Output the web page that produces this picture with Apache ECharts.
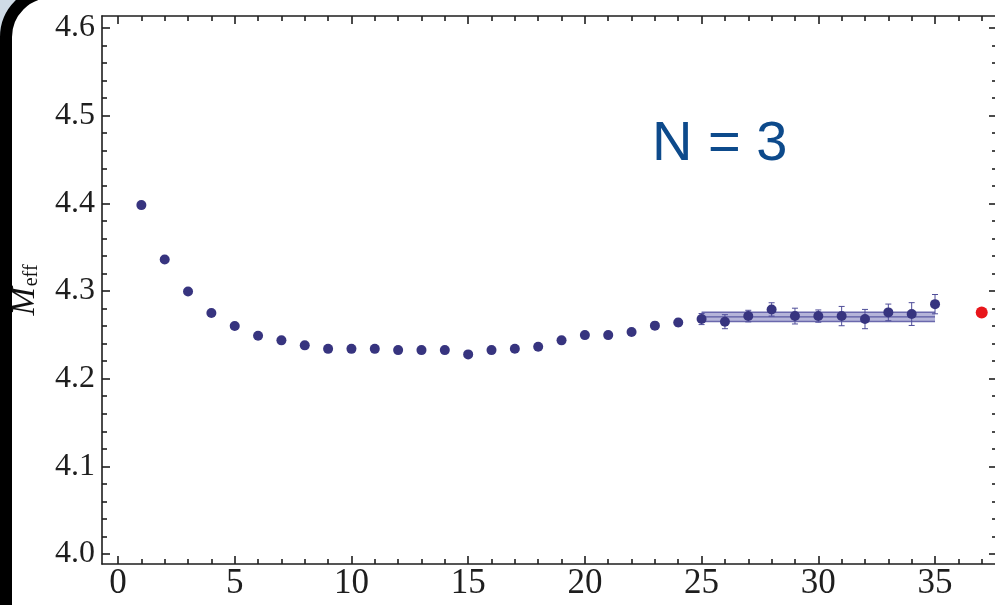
<!DOCTYPE html>
<html>
<head>
<meta charset="utf-8">
<script src="https://cdn.jsdelivr.net/npm/echarts@6/dist/echarts.min.js"></script>
<style>
  html, body { margin: 0; padding: 0; background: #cfdbe6; }
  #chart { width: 995px; height: 605px; }
</style>
</head>
<body>
<div id="chart"></div>
<script>
// ---- data ----
const timeSlices = [1, 2, 3, 4, 5, 6, 7, 8, 9, 10, 11, 12, 13, 14, 15, 16, 17, 18, 19, 20,
                    21, 22, 23, 24, 25, 26, 27, 28, 29, 30, 31, 32, 33, 34, 35];
const mEff = [4.398, 4.336, 4.2995, 4.275, 4.260, 4.249, 4.2437, 4.238, 4.234, 4.234,
              4.234, 4.2326, 4.2326, 4.2326, 4.2277, 4.2326, 4.2341, 4.2364, 4.2437, 4.2497,
              4.2497, 4.2533, 4.2605, 4.264, 4.268, 4.265, 4.2714, 4.279, 4.2714, 4.2714,
              4.2714, 4.268, 4.2756, 4.2737, 4.285];
const mEffErr = [0, 0, 0, 0, 0, 0, 0, 0, 0, 0,
                 0, 0, 0, 0, 0, 0, 0, 0, 0, 0,
                 0.002, 0.002, 0.004, 0.004, 0.0063, 0.008, 0.0066, 0.0076, 0.009, 0.007,
                 0.011, 0.011, 0.0095, 0.013, 0.011];
const fitRange = [25, 35];
const fitValue = 4.2706;
const fitError = 0.0053;
const extrapX = 37;
const extrapValue = 4.2756;

const xMajorTicks = [0, 5, 10, 15, 20, 25, 30, 35];
const xMinorTicks = [1, 2, 3, 4, 6, 7, 8, 9, 11, 12, 13, 14, 16, 17, 18, 19, 21, 22, 23, 24,
                     26, 27, 28, 29, 31, 32, 33, 34, 36, 37];
const yMajorTicks = [4.0, 4.1, 4.2, 4.3, 4.4, 4.5, 4.6];
const yMinorTicks = [4.02, 4.04, 4.06, 4.08, 4.12, 4.14, 4.16, 4.18, 4.22, 4.24, 4.26, 4.28,
                     4.32, 4.34, 4.36, 4.38, 4.42, 4.44, 4.46, 4.48, 4.52, 4.54, 4.56, 4.58];
const panelLabel = 'N = 3';

// ---- chart ----
const X_MIN = -0.686, X_MAX = 37.655;
const Y_MIN = 3.9886, Y_MAX = 4.6137;
const AXIS_COLOR = '#1e1e1e';
const SERIF = '"Liberation Serif", "DejaVu Serif", serif';
const DOT = '#37347f';

function mkX(position, ticks, len, showLine, showLabels) {
  return {
    type: 'value', position: position, min: X_MIN, max: X_MAX,
    axisLine: { show: showLine, onZero: false, lineStyle: { color: AXIS_COLOR, width: 1.6 } },
    axisTick: { show: true, inside: true, length: len, customValues: ticks,
                lineStyle: { color: AXIS_COLOR, width: 1.6 } },
    axisLabel: showLabels ? { show: true, customValues: ticks, fontFamily: SERIF, fontSize: 35,
                              color: AXIS_COLOR, margin: 2 } : { show: false },
    splitLine: { show: false }
  };
}
function mkY(position, ticks, len, showLine, showLabels) {
  return {
    type: 'value', position: position, min: Y_MIN, max: Y_MAX,
    axisLine: { show: showLine, onZero: false, lineStyle: { color: AXIS_COLOR, width: 1.6 } },
    axisTick: { show: true, inside: true, length: len, customValues: ticks,
                lineStyle: { color: AXIS_COLOR, width: 1.6 } },
    axisLabel: showLabels ? { show: true, customValues: ticks, fontFamily: SERIF, fontSize: 32,
                              color: AXIS_COLOR, margin: 7,
                              formatter: v => v.toFixed(1) } : { show: false },
    splitLine: { show: false }
  };
}

const xAxes = [
  mkX('bottom', xMajorTicks, 8, true, true),
  mkX('bottom', xMinorTicks, 5, false, false),
  mkX('top', xMajorTicks, 8, true, false),
  mkX('top', xMinorTicks, 5, false, false)
];
const yAxes = [
  mkY('left', yMajorTicks, 8, true, true),
  mkY('left', yMinorTicks, 5, false, false),
  mkY('right', yMajorTicks, 8, true, false),
  mkY('right', yMinorTicks, 5, false, false)
];
yAxes[0].name = '{m|M}{s|eff}';
yAxes[0].nameLocation = 'middle';
yAxes[0].nameRotate = 90;
yAxes[0].nameGap = 60;
yAxes[0].nameTextStyle = {
  rich: {
    m: { fontFamily: SERIF, fontStyle: 'italic', fontSize: 34, color: '#111', lineHeight: 34 },
    s: { fontFamily: SERIF, fontSize: 20, color: '#111', verticalAlign: 'bottom', lineHeight: 34, padding: [12, 0, 0, 1] }
  }
};

const chart = echarts.init(document.getElementById('chart'), null, { renderer: 'canvas' });
chart.setOption({
  backgroundColor: '#cfdbe6',
  animation: false,
  graphic: [
    {
      type: 'rect', z: -100, silent: true,
      shape: { x: 6, y: -8, width: 1100, height: 700, r: 45 },
      style: { fill: '#ffffff', stroke: '#000000', lineWidth: 12 }
    },
    {
      type: 'text', z: 100, left: 652, top: 117,
      style: { text: panelLabel, font: '56px "Liberation Sans", Arial, sans-serif', fill: '#0d4a8b' }
    }
  ],
  grid: { left: 102, right: -2, top: 16, bottom: 41, containLabel: false, outerBoundsMode: 'none' },
  xAxis: xAxes,
  yAxis: yAxes,
  series: [
    {
      type: 'custom', name: 'fit', xAxisIndex: 0, yAxisIndex: 0, z: 2,
      data: [[fitRange[0], fitRange[1], fitValue, fitError]],
      renderItem: function (params, api) {
        const x0 = api.value(0), x1 = api.value(1), c = api.value(2), e = api.value(3);
        const pTop = api.coord([x0, c + e]);
        const pBot = api.coord([x1, c - e]);
        const pMid0 = api.coord([x0, c]);
        const pMid1 = api.coord([x1, c]);
        return {
          type: 'group',
          children: [
            { type: 'rect', shape: { x: pTop[0], y: pTop[1], width: pBot[0] - pTop[0], height: pBot[1] - pTop[1] },
              style: { fill: 'rgba(120,118,185,0.55)' } },
            { type: 'line', shape: { x1: pTop[0], y1: pTop[1], x2: pBot[0], y2: pTop[1] },
              style: { stroke: '#6a68ad', lineWidth: 1.5 } },
            { type: 'line', shape: { x1: pTop[0], y1: pBot[1], x2: pBot[0], y2: pBot[1] },
              style: { stroke: '#6a68ad', lineWidth: 1.5 } },
            { type: 'line', shape: { x1: pMid0[0], y1: pMid0[1], x2: pMid1[0], y2: pMid1[1] },
              style: { stroke: '#5a58a2', lineWidth: 1.2 } }
          ]
        };
      }
    },
    {
      type: 'custom', name: 'errors', xAxisIndex: 0, yAxisIndex: 0, z: 3,
      data: timeSlices.map((t, i) => [t, mEff[i], mEffErr[i]]),
      renderItem: function (params, api) {
        const x = api.value(0), y = api.value(1), e = api.value(2);
        if (!e) return null;
        const hi = api.coord([x, y + e]);
        const lo = api.coord([x, y - e]);
        const cap = 3;
        const st = { stroke: '#4f4d99', lineWidth: 1 };
        return {
          type: 'group',
          children: [
            { type: 'line', shape: { x1: hi[0], y1: hi[1], x2: lo[0], y2: lo[1] }, style: st },
            { type: 'line', shape: { x1: hi[0] - cap, y1: hi[1], x2: hi[0] + cap, y2: hi[1] }, style: st },
            { type: 'line', shape: { x1: lo[0] - cap, y1: lo[1], x2: lo[0] + cap, y2: lo[1] }, style: st }
          ]
        };
      }
    },
    {
      type: 'scatter', name: 'Meff', xAxisIndex: 0, yAxisIndex: 0, z: 4,
      symbol: 'circle', symbolSize: 10,
      itemStyle: { color: DOT, opacity: 1 },
      data: timeSlices.map((t, i) => [t, mEff[i]])
    },
    {
      type: 'scatter', name: 'extrapolated', xAxisIndex: 0, yAxisIndex: 0, z: 4,
      symbol: 'circle', symbolSize: 12,
      itemStyle: { color: '#e8161b', opacity: 1 },
      data: [[extrapX, extrapValue]]
    }
  ]
});
</script>
</body>
</html>
